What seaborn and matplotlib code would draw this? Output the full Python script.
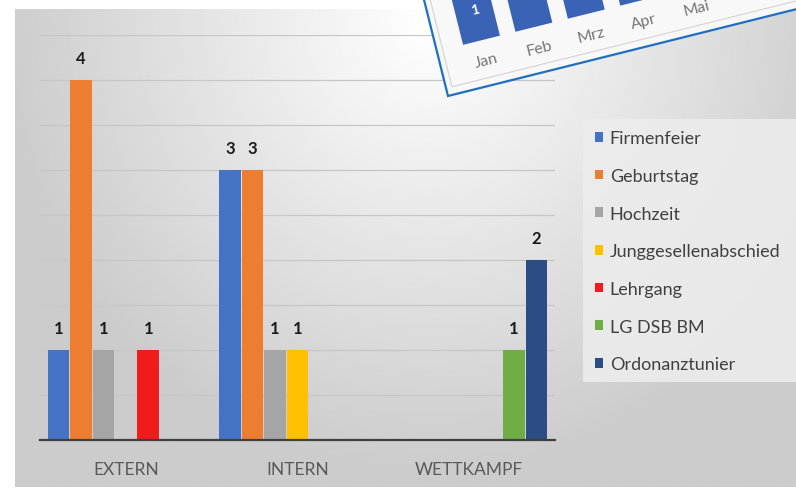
import numpy as np
import pandas as pd
import matplotlib
matplotlib.use("Agg")
import matplotlib.pyplot as plt
from matplotlib.patches import Rectangle
from matplotlib.transforms import Affine2D
import seaborn as sns

# data
categories = ['EXTERN', 'INTERN', 'WETTKAMPF']
series = ['Firmenfeier', 'Geburtstag', 'Hochzeit', 'Junggesellenabschied',
          'Lehrgang', 'LG DSB BM', 'Ordonanztunier']
firmenfeier = [1, 3, 0]
geburtstag = [4, 3, 0]
hochzeit = [1, 1, 0]
junggesellen = [0, 1, 0]
lehrgang = [1, 0, 0]
lg_dsb_bm = [0, 0, 1]
ordonanz = [0, 0, 2]
colors = ['#4472C4', '#ED7D31', '#A5A5A5', '#FFC000', '#F21B1B', '#70AD47', '#2B4C85']

# the tilted chart card in the top right corner
months = ['Jan', 'Feb', 'Mrz', 'Apr', 'Mai']
month_vals = [1, 2, 2, 2, 2]

sns.set_theme(style="white")
plt.rcParams['font.family'] = ['Lato', 'DejaVu Sans']

rows = []
for name, vals in zip(series, [firmenfeier, geburtstag, hochzeit, junggesellen,
                               lehrgang, lg_dsb_bm, ordonanz]):
    for cat, v in zip(categories, vals):
        rows.append({'Kategorie': cat, 'Art': name, 'Anzahl': v})
df = pd.DataFrame(rows)

W, H = 796, 489
fig = plt.figure(figsize=(W / 100, H / 100), dpi=100)
fig.patch.set_facecolor('white')

# gradient background of the chart area
bg = fig.add_axes([15 / W, 1 / H, (W - 15) / W, (H - 11) / H])
bg.set_zorder(0)
xx, yy = np.meshgrid(np.linspace(15, W, 400), np.linspace(10, H - 1, 250))
dist = np.hypot((xx - 430) / 1.0, (yy - 20) / 1.05)
shade = 1 - 0.2 * np.clip(dist / 430, 0, 1)
bg.imshow(shade, cmap='gray', vmin=0, vmax=1, aspect='auto',
          extent=(15, W, H - 1, 10), interpolation='bilinear')
bg.axis('off')

# legend box
fig.patches.append(Rectangle((583 / W, 1 - 383 / H), (W - 583) / W, 263 / H,
                             transform=fig.transFigure, facecolor='#ececec',
                             edgecolor='none', alpha=0.9, zorder=1))

ax = fig.add_axes([40 / W, 48 / H, 515 / W, 405 / H])
ax.set_zorder(2)
ax.patch.set_alpha(0)
sns.barplot(data=df, x='Kategorie', y='Anzahl', hue='Art', hue_order=series,
            order=categories, palette=colors, width=0.914, gap=0.04,
            saturation=1, errorbar=None, linewidth=0, ax=ax)
ax.set_xlim(-0.5, 2.5)
ax.set_ylim(0, 4.5)
ax.set_yticks(np.arange(0, 4.51, 0.5))
ax.set_yticklabels([])
ax.yaxis.grid(True, color='#c6c6c6', linewidth=0.9)
ax.set_axisbelow(True)
for s in ['top', 'right', 'left']:
    ax.spines[s].set_visible(False)
ax.spines['bottom'].set_color('#3f3f3f')
ax.spines['bottom'].set_linewidth(1.6)
ax.set_xlabel('')
ax.set_ylabel('')
ax.tick_params(axis='x', length=0, pad=15, labelsize=12.5, labelcolor='#595959')
ax.tick_params(axis='y', length=0)

for cont in ax.containers:
    labels = [f'{int(v)}' if v > 0 else '' for v in cont.datavalues]
    ax.bar_label(cont, labels=labels, padding=10, fontsize=12,
                 fontweight='bold', color='#1a1a1a')

handles, labels = ax.get_legend_handles_labels()
ax.get_legend().remove()
leg = fig.legend(handles, labels, loc='upper left',
                 bbox_to_anchor=(588 / W, 1 - 124 / H), frameon=False,
                 fontsize=13, labelcolor='#404040', handlelength=0.45,
                 handleheight=0.45, handletextpad=0.35, labelspacing=1.2,
                 borderaxespad=0)
leg.set_zorder(3)

# tilted card (decoration, partly outside the image)
ov = fig.add_axes([0, 0, 1, 1])
ov.set_zorder(4)
ov.patch.set_alpha(0)
ov.set_xlim(0, W)
ov.set_ylim(H, 0)
ov.axis('off')
T = Affine2D().scale(1, -1).rotate_deg(-14).translate(448, 97) + ov.transData
ov.add_patch(Rectangle((0, 0), 600, 400, transform=T, facecolor='#f8f8f8',
                       edgecolor='#1f6fc0', linewidth=1.6))
ov.add_patch(Rectangle((6, 8), 590, 390, transform=T, facecolor='none',
                       edgecolor='#d6d6d6', linewidth=0.9))
unit = 50
for i, (m, v) in enumerate(zip(months, month_vals)):
    cx = 46 + 54 * i
    ov.add_patch(Rectangle((cx - 19, 46), 38, v * unit, transform=T,
                           facecolor='#3a62b5', edgecolor='none'))
    ov.text(cx, 25, m, transform=T, rotation=14, ha='center', va='center',
            rotation_mode='anchor', fontsize=11.5, color='#767676')
ov.text(47, 46 + month_vals[0] * unit - 18, f'{month_vals[0]}', transform=T,
        rotation=14, ha='center', va='center', rotation_mode='anchor',
        fontsize=10, color='white', fontweight='bold')

fig.savefig('out.png', dpi=100)
